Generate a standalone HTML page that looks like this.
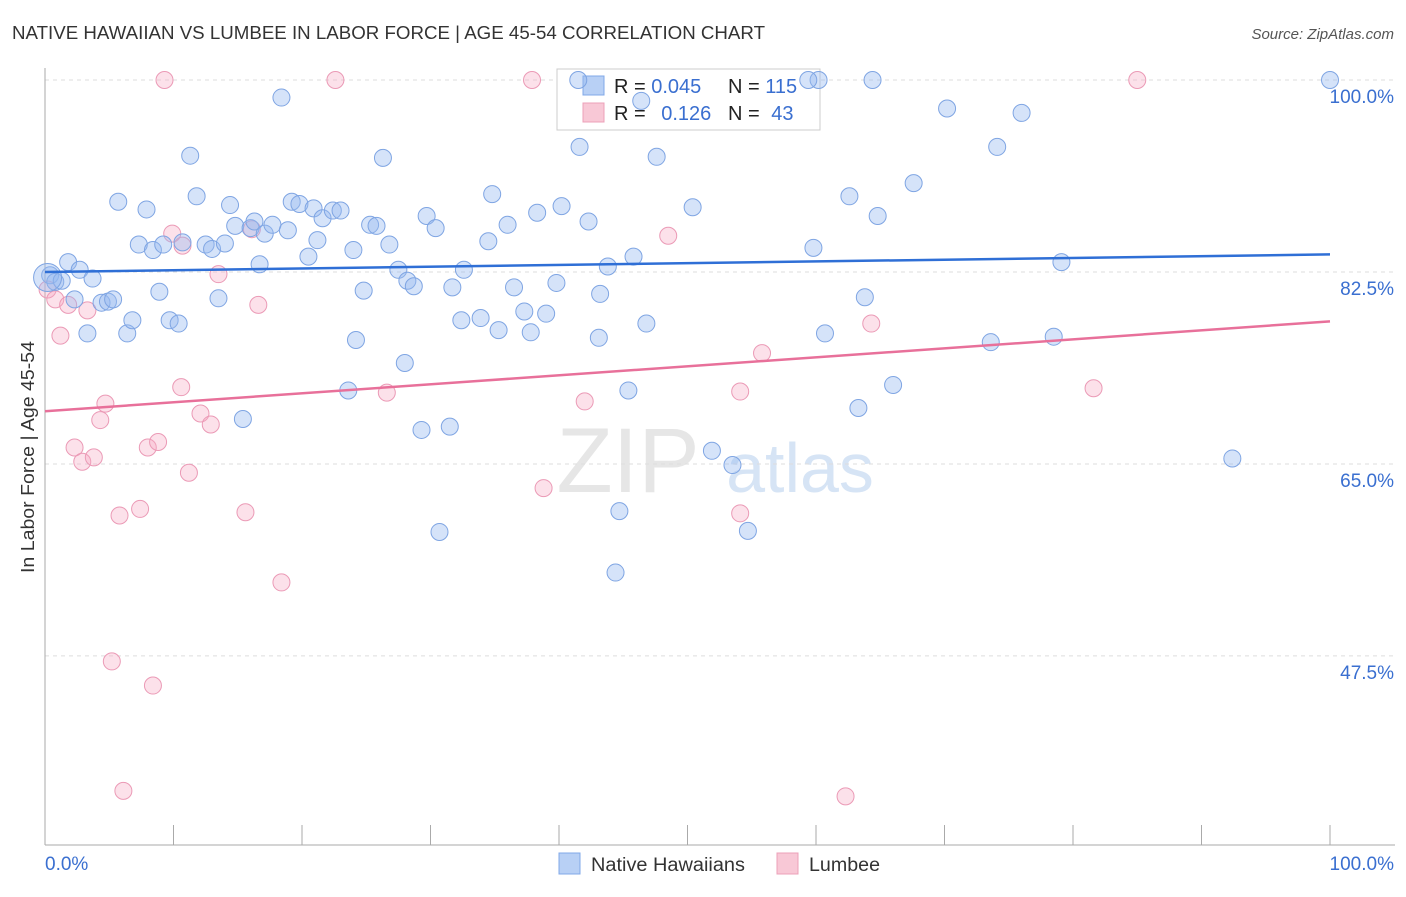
<!DOCTYPE html>
<html><head><meta charset="utf-8">
<style>
body{margin:0;background:#fff;font-family:"Liberation Sans",sans-serif;}
svg text{font-family:"Liberation Sans",sans-serif;}
</style></head>
<body>
<svg id="chart" width="1406" height="892">
<text x="12" y="39" font-size="18" fill="#333" textLength="753" lengthAdjust="spacingAndGlyphs">NATIVE HAWAIIAN VS LUMBEE IN LABOR FORCE | AGE 45-54 CORRELATION CHART</text>
<text x="1394" y="39" font-size="15" fill="#555" font-style="italic" text-anchor="end">Source: ZipAtlas.com</text>
<text x="628" y="492" font-size="92" fill="#e6e6e6" font-family="Liberation Serif" text-anchor="middle">ZIP</text>
<text x="800" y="492" font-size="70" fill="#d6e4f5" text-anchor="middle">atlas</text>
<text x="34" y="457" font-size="18" fill="#333" text-anchor="middle" textLength="232" lengthAdjust="spacingAndGlyphs" transform="rotate(-90 34 457)">In Labor Force | Age 45-54</text>
<g id="grid"></g><g id="axes"></g>
<g>
<rect x="557" y="69" width="263" height="61" fill="#fff" stroke="#ccc"/>
<rect x="583" y="76" width="21" height="19" fill="#b8d0f5" stroke="#80a8e8"/>
<rect x="583" y="103" width="21" height="19" fill="#f8c8d6" stroke="#eca0b8"/>
<text x="614" y="93" font-size="20" fill="#222">R = <tspan fill="#3a6fd0">0.045</tspan></text>
<text x="728" y="93" font-size="20" fill="#222">N = <tspan fill="#3a6fd0">115</tspan></text>
<text x="614" y="120" font-size="20" fill="#222">R = <tspan dx="10" fill="#3a6fd0">0.126</tspan></text>
<text x="728" y="120" font-size="20" fill="#222">N = <tspan dx="6" fill="#3a6fd0">43</tspan></text>
</g>
<g id="marks"></g>
<g>
<rect x="559" y="853" width="21" height="21" fill="#b8d0f5" stroke="#80a8e8"/>
<text x="591" y="871" font-size="19" fill="#333" textLength="154" lengthAdjust="spacingAndGlyphs">Native Hawaiians</text>
<rect x="777" y="853" width="21" height="21" fill="#f8c8d6" stroke="#eca0b8"/>
<text x="809" y="871" font-size="19" fill="#333" textLength="71" lengthAdjust="spacingAndGlyphs">Lumbee</text>
</g>
<text x="45" y="870" font-size="19" fill="#3a6fd0">0.0%</text>
<text x="1394" y="870" font-size="19" fill="#3a6fd0" text-anchor="end">100.0%</text>
</svg>
<script>
const yTicks=[100,82.5,65,47.5];
const yTickLabels=["100.0%","82.5%","65.0%","47.5%"];
const blueX=[0.4,0.8,1.3,1.8,2.7,2.3,3.3,3.7,4.4,4.9,5.3,5.7,6.4,6.8,7.3,7.9,8.4,8.9,9.2,9.7,10.4,10.7,11.3,11.8,12.5,13.0,13.5,14.0,14.4,14.8,15.4,16.0,16.3,16.7,17.1,17.7,18.4,18.9,19.2,19.8,20.5,20.9,21.2,21.6,22.4,23.0,24.0,24.2,23.6,24.8,25.3,25.8,26.3,26.8,27.5,28.0,28.2,28.7,29.3,29.7,30.4,30.7,31.5,31.7,32.4,32.6,33.9,34.5,34.8,35.3,36.0,36.5,37.3,37.8,38.3,39.0,39.8,40.2,41.6,42.3,43.1,43.2,43.8,44.4,44.7,45.4,45.8,46.4,46.8,47.6,50.4,51.9,53.5,54.7,59.8,60.7,62.6,63.3,63.8,64.8,66.0,67.6,70.2,73.6,74.1,76.0,78.5,79.1,92.4,100,64.4,60.2,59.4,41.5];
const blueY=[82.2,81.6,81.7,83.4,82.7,80.0,76.9,81.9,79.7,79.8,80.0,88.9,76.9,78.1,85.0,88.2,84.5,80.7,85.0,78.1,77.8,85.2,93.1,89.4,85.0,84.6,80.1,85.1,88.6,86.7,69.1,86.5,87.1,83.2,86.0,86.8,98.4,86.3,88.9,88.7,83.9,88.3,85.4,87.4,88.1,88.1,84.5,76.3,71.7,80.8,86.8,86.7,92.9,85.0,82.7,74.2,81.7,81.2,68.1,87.6,86.5,58.8,68.4,81.1,78.1,82.7,78.3,85.3,89.6,77.2,86.8,81.1,78.9,77.0,87.9,78.7,81.5,88.5,93.9,87.1,76.5,80.5,83.0,55.1,60.7,71.7,83.9,98.1,77.8,93.0,88.4,66.2,64.9,58.9,84.7,76.9,89.4,70.1,80.2,87.6,72.2,90.6,97.4,76.1,93.9,97.0,76.6,83.4,65.5,100,100,100,100,100];
const pinkX=[9.3,22.6,37.9,85.0,0.2,0.8,1.2,1.8,3.3,4.3,4.7,2.3,2.9,3.8,5.8,7.4,8.0,8.8,9.9,10.7,10.6,11.2,12.1,12.9,13.5,15.6,16.1,16.6,18.4,5.2,8.4,6.1,26.6,38.8,42.0,48.5,54.1,54.1,55.8,62.3,64.3,81.6];
const pinkY=[100,100,100,100,80.9,80.0,76.7,79.5,79.0,69.0,70.5,66.5,65.2,65.6,60.3,60.9,66.5,67.0,86.0,84.9,72.0,64.2,69.6,68.6,82.3,60.6,86.4,79.5,54.2,47.0,44.8,35.2,71.5,62.8,70.7,85.8,71.6,60.5,75.1,34.7,77.8,71.9];
const blueTrend=[82.5,84.1];
const pinkTrend=[69.8,78.0];
const NS="http://www.w3.org/2000/svg";
function sx(v){return 45+v*12.85;}
function sy(v){return 80+(100-v)*10.97;}
function mk(tag,attrs,parent){const e=document.createElementNS(NS,tag);for(const k in attrs)e.setAttribute(k,attrs[k]);parent.appendChild(e);return e;}
const grid=document.getElementById('grid'),axes=document.getElementById('axes'),marks=document.getElementById('marks');
yTicks.forEach((t,i)=>{
 const l=mk('line',{x1:45,x2:1395,y1:sy(t),y2:sy(t),stroke:'#ddd','stroke-dasharray':'4,4'},grid);
 
 
 const tx=mk('text',{x:1394,y:sy(t)+23,'font-size':19,fill:'#3a6fd0','text-anchor':'end'},axes);
 tx.textContent=yTickLabels[i];
 
 
});
let a=mk('line',{x1:45,x2:45,y1:68,y2:845,stroke:'#aaa'},axes);


a=mk('line',{x1:45,x2:1395,y1:845,y2:845,stroke:'#aaa'},axes);


for(let i=0;i<=10;i++){
 const t=mk('line',{x1:sx(i*10),x2:sx(i*10),y1:825,y2:845,stroke:'#aaa'},axes);
 
 
}
function dots(xs,ys,fill,stroke,name){
 xs.forEach((x,i)=>{
  const c=mk('circle',{cx:sx(x),cy:sy(ys[i]),r:8.5,fill:fill,stroke:stroke,'stroke-width':1},marks);
  
  
 });
}
dots(pinkX,pinkY,'rgba(245,170,195,0.35)','#eb9ab6','lumbee-point');
dots(blueX,blueY,'rgba(150,185,240,0.4)','#7fa5e3','native-hawaiian-point');
const big=mk('circle',{cx:sx(0.2),cy:sy(82.0),r:14,fill:'rgba(150,185,240,0.4)',stroke:'#7fa5e3'},marks);


let tl=mk('line',{x1:sx(0),x2:sx(100),y1:sy(blueTrend[0]),y2:sy(blueTrend[1]),stroke:'#2f6fd6','stroke-width':2.5},marks);


tl=mk('line',{x1:sx(0),x2:sx(100),y1:sy(pinkTrend[0]),y2:sy(pinkTrend[1]),stroke:'#e8709a','stroke-width':2.5},marks);


</script>
</body></html>
